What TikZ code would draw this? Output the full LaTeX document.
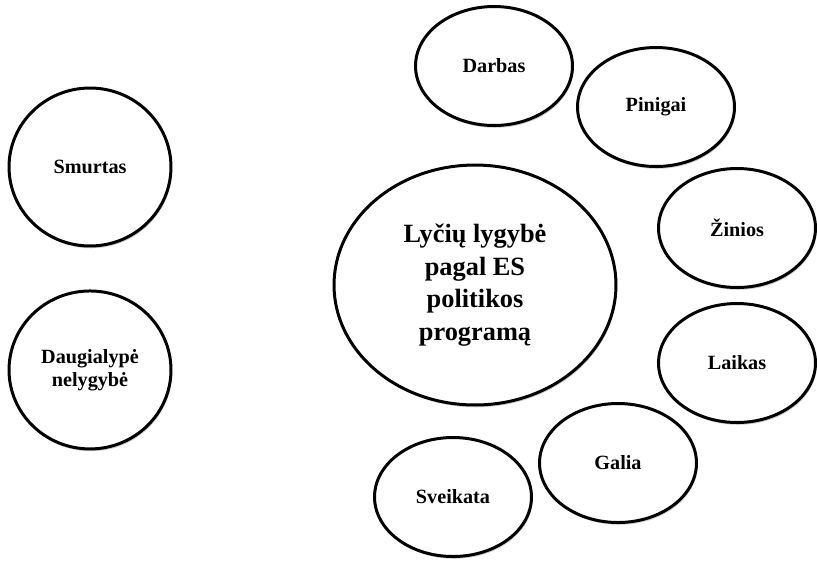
\documentclass[tikz,border=0pt]{standalone}
\usepackage{fontspec}
\setmainfont{Liberation Serif}
\usepackage{tikz}
\usetikzlibrary{positioning, shapes.geometric, shadows}

\begin{document}
\begin{tikzpicture}[
    x=0.02cm, y=-0.02cm,
    topic/.style={
        ellipse, draw=black, line width=1.7pt, fill=white,
        minimum width=3.14cm, minimum height=2.38cm, inner sep=1pt,
        align=center, font=\fontsize{11.5}{13}\selectfont\bfseries,
        drop shadow={shadow xshift=0.6pt, shadow yshift=-1.3pt,
                     fill=black!40, opacity=0.5}
    },
    sidetopic/.style={topic, minimum width=3.24cm, minimum height=3.16cm},
    core/.style={topic, minimum width=5.64cm, minimum height=4.8cm,
        font=\fontsize{15}{18.5}\selectfont\bfseries}
]
\useasboundingbox (0,0) rectangle (817,562);

% Central topic
\node[core] (core) at (475,285) {Lyčių lygybė\\pagal ES\\politikos\\programą};

% Surrounding topics
\node[topic] (darbas) at (494,66) {Darbas};
\node[topic] (pinigai) at (656,107) {Pinigai};
\node[topic] (zinios) at (737,228) {Žinios};
\node[topic] (laikas) at (737,363) {Laikas};
\node[topic] (galia) at (618,463) {Galia};
\node[topic] (sveikata) at (453,497) {Sveikata};

% Left column
\node[sidetopic] (smurtas) at (90,167) {Smurtas};
\node[sidetopic, below=0.84cm of smurtas] (nelygybe) {Daugialypė\\nelygybė};

\end{tikzpicture}
\end{document}
